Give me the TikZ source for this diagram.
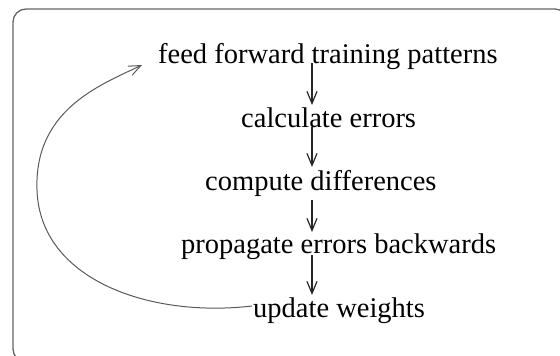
\documentclass[tikz,border=0pt]{standalone}
\usepackage{fontspec}
\setmainfont{Liberation Serif}
\usetikzlibrary{arrows.meta,calc}
\begin{document}
\begin{tikzpicture}[x=1pt,y=-1pt,
  lbl/.style={anchor=base west,inner sep=0pt,text=black,font=\fontsize{28.5}{34}\selectfont},
  flow/.style={draw=black!85,line width=1.2pt,-{Straight Barb[length=12pt,width=10pt]}},
  loop/.style={draw=black!65,line width=1pt,-{Straight Barb[length=12pt,width=10pt]}}]
\useasboundingbox (0,0) rectangle (560,356);
\draw[black!60,line width=1.3pt,rounded corners=13pt] (13,9) rectangle (568,362);
\node[lbl] (f) at (158,63) {feed forward training patterns};
\node[lbl] (c) at (241,127) {calculate errors};
\node[lbl] (d) at (205,190) {compute differences};
\node[lbl] (p) at (181,253) {propagate errors backwards};
\node[lbl] (u) at (253,317) {update weights};
\coordinate (ax) at (312,0);
\draw[flow] (ax |- f.base) -- ($(ax |- c.base)+(0,-22)$);
\draw[flow] (ax |- c.base) -- ($(ax |- d.base)+(0,-23)$);
\draw[flow] ($(ax |- d.base)+(0,10)$) -- ($(ax |- p.base)+(0,-21)$);
\draw[flow] ($(ax |- p.base)+(0,2)$) -- ($(ax |- u.base)+(0,-22)$);
\coordinate (ls) at ($(u.base west)+(-1,-11)$);
\coordinate (le) at ($(f.base west)+(-16,2)$);
\coordinate (lm) at (37,190);
\draw[loop] (ls) .. controls (150,318) and (40,280) .. (lm)
  .. controls (34,110) and (100,85) .. (le);
\end{tikzpicture}
\end{document}
